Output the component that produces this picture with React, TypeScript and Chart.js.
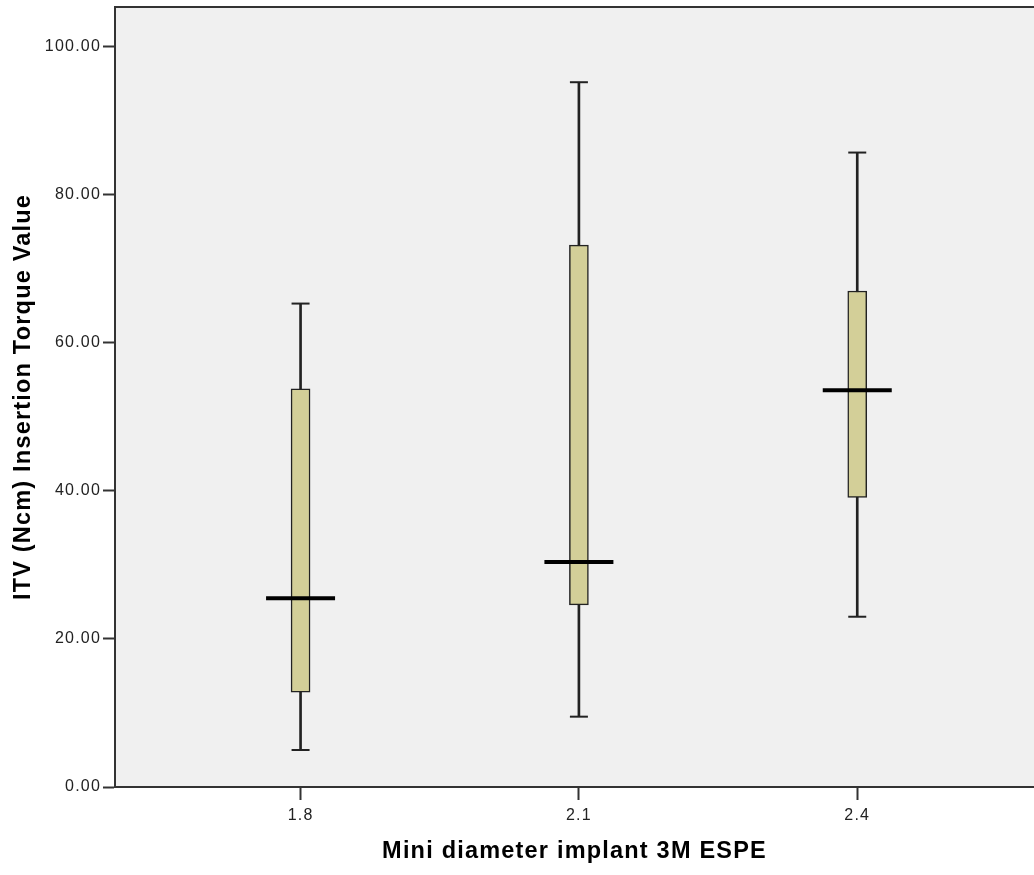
import React, { useEffect, useRef } from "react";
import { Chart, registerables } from "chart.js";

Chart.register(...registerables);

// Implant diameters (mm) and insertion torque summary per group (Ncm)
const diameters = [1.8, 2.1, 2.4];
const whiskerLow = [5.0, 9.5, 23.0];
const quartile1 = [12.8, 24.6, 39.1];
const medians = [25.5, 30.4, 53.6];
const quartile3 = [53.8, 73.2, 67.0];
const whiskerHigh = [65.3, 95.2, 85.7];
const yTickValues = [0, 20, 40, 60, 80, 100];
const xTickValues = [1.8, 2.1, 2.4];

const W = 1034;
const H = 875;
const FONT = "'Liberation Sans', Arial, sans-serif";
const INK = "#222222";

const framePlugin = {
  id: "frame",
  beforeDraw(chart: any) {
    const { ctx, chartArea } = chart;
    ctx.letterSpacing = "1.2px";
    ctx.save();
    ctx.fillStyle = "#f0f0f0";
    ctx.fillRect(chartArea.left, chartArea.top, chartArea.right - chartArea.left, chartArea.bottom - chartArea.top);
    ctx.strokeStyle = "#333333";
    ctx.lineWidth = 2;
    ctx.beginPath();
    ctx.moveTo(chartArea.left, chartArea.top);
    ctx.lineTo(chartArea.right, chartArea.top);
    ctx.stroke();
    ctx.restore();
  },
};

export default function App() {
  const canvasRef = useRef<HTMLCanvasElement | null>(null);

  useEffect(() => {
    if (!canvasRef.current) return;
    const whiskers = diameters.map((x, i) => ({ x, y: [whiskerLow[i], whiskerHigh[i]] }));
    const boxes = diameters.map((x, i) => ({ x, y: [quartile1[i], quartile3[i]] }));
    const caps = [
      ...diameters.map((x, i) => ({ x, y: whiskerLow[i] })),
      ...diameters.map((x, i) => ({ x, y: whiskerHigh[i] })),
    ];
    const medianPts = diameters.map((x, i) => ({ x, y: medians[i] }));

    const chart = new Chart(canvasRef.current, {
      type: "bar",
      data: {
        datasets: [
          {
            type: "bar",
            data: whiskers as any,
            backgroundColor: INK,
            barThickness: 2,
            grouped: false,
            order: 4,
          } as any,
          {
            type: "bar",
            data: boxes as any,
            backgroundColor: "#d3cf98",
            borderColor: INK,
            borderWidth: 1.5,
            borderSkipped: false,
            barThickness: 19,
            grouped: false,
            order: 3,
          } as any,
          {
            type: "scatter",
            data: caps,
            pointStyle: "line",
            radius: 9,
            borderWidth: 2,
            borderColor: INK,
            order: 2,
          } as any,
          {
            type: "scatter",
            data: medianPts,
            pointStyle: "line",
            radius: 34.5,
            borderWidth: 4,
            borderColor: "#000000",
            order: 1,
          } as any,
        ],
      },
      options: {
        responsive: false,
        animation: false,
        events: [],
        layout: { autoPadding: false, padding: { top: 7, right: 0, bottom: 0, left: 0 } },
        plugins: { legend: { display: false }, tooltip: { enabled: false } },
        scales: {
          x: {
            type: "linear",
            offset: false,
            min: 1.6,
            max: 2.5905,
            afterBuildTicks: (scale: any) => {
              scale.ticks = xTickValues.map((v) => ({ value: v }));
            },
            afterFit: (scale: any) => {
              scale.height = H - 787;
              scale.paddingLeft = 0;
              scale.paddingRight = 0;
            },
            grid: { offset: false, drawOnChartArea: false, tickLength: 13, color: "#333333", tickWidth: 2 },
            border: { color: "#333333", width: 2 },
            ticks: {
              color: INK,
              padding: 6,
              font: { family: FONT, size: 16 },
              callback: (v: any) => Number(v).toFixed(1),
            },
            title: {
              display: true,
              text: "Mini diameter implant 3M ESPE",
              color: "#000000",
              font: { family: FONT, size: 23.5, weight: "bold" },
              padding: { top: 0, bottom: 9 },
            },
          },
          y: {
            type: "linear",
            min: 0,
            max: 105.36,
            afterBuildTicks: (scale: any) => {
              scale.ticks = yTickValues.map((v) => ({ value: v }));
            },
            afterFit: (scale: any) => {
              scale.width = 115;
              scale.paddingTop = 0;
              scale.paddingBottom = 0;
            },
            grid: { drawOnChartArea: false, tickLength: 12, color: "#333333", tickWidth: 2 },
            border: { color: "#333333", width: 2 },
            ticks: {
              color: INK,
              padding: 2,
              font: { family: FONT, size: 16 },
              callback: (v: any) => Number(v).toFixed(2),
            },
            title: {
              display: true,
              text: "ITV (Ncm) Insertion Torque Value",
              color: "#000000",
              font: { family: FONT, size: 23.5, weight: "bold" },
              padding: { top: 9, bottom: 0 },
            },
          },
        },
      },
      plugins: [framePlugin],
    });
    return () => chart.destroy();
  }, []);

  return (
    <div style={{ position: "fixed", left: 0, top: 0, width: W, height: H, background: "#ffffff" }}>
      <canvas ref={canvasRef} width={W} height={H} style={{ display: "block" }} />
    </div>
  );
}
